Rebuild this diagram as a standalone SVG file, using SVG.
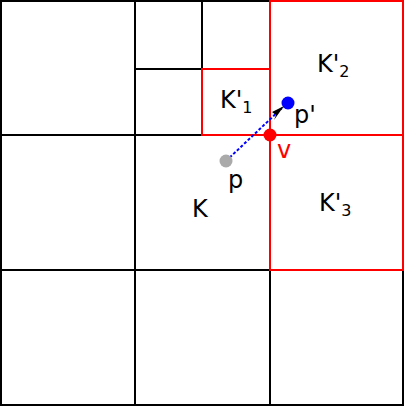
<svg xmlns="http://www.w3.org/2000/svg" width="404" height="406" viewBox="0 0 404 406">
<style>
.g{fill:none;stroke:#000;stroke-width:2}
.r{fill:none;stroke:#f00;stroke-width:2}
text{font-family:"DejaVu Sans",sans-serif;font-size:24px}
.s{font-size:16px}
</style>
<rect width="404" height="406" fill="#fff"/>
<g id="grid">
<rect class="g" x="1" y="1" width="402" height="404"/>
<line class="g" x1="135" y1="0" x2="135" y2="406"/>
<line class="g" x1="270" y1="0" x2="270" y2="406"/>
<line class="g" x1="0" y1="135" x2="404" y2="135"/>
<line class="g" x1="0" y1="270" x2="404" y2="270"/>
<line class="g" x1="202" y1="0" x2="202" y2="69"/>
<line class="g" x1="135" y1="69" x2="202" y2="69"/>
</g>
<g id="K1">
<rect class="r" x="202" y="69" width="68" height="66"/>
<text x="220" y="108">K'<tspan class="s" dy="5">1</tspan></text>
</g>
<g id="K2">
<rect class="r" x="270" y="1" width="133" height="134"/>
<text x="317" y="72">K'<tspan class="s" dy="5">2</tspan></text>
</g>
<g id="K3">
<rect class="r" x="270" y="135" width="133" height="135"/>
<text x="319" y="211">K'<tspan class="s" dy="5">3</tspan></text>
</g>
<g id="K">
<text x="192" y="217">K</text>
</g>
<g id="connectors">
<line x1="226" y1="161" x2="282" y2="108" stroke="#00f" stroke-width="2" stroke-dasharray="3,2"/>
<path d="M284,106 L272,112 L276,115 L274,120 Z" fill="#000"/>
</g>
<g id="p">
<circle cx="226" cy="161" r="6.5" fill="#aaa"/>
<text x="228" y="188">p</text>
</g>
<g id="pprime">
<circle cx="288" cy="103" r="6.5" fill="#00f"/>
<text x="294" y="123">p'</text>
</g>
<g id="v">
<circle cx="270" cy="135" r="6.5" fill="#f00"/>
<text x="277" y="158" fill="#f00">v</text>
</g>
</svg>
